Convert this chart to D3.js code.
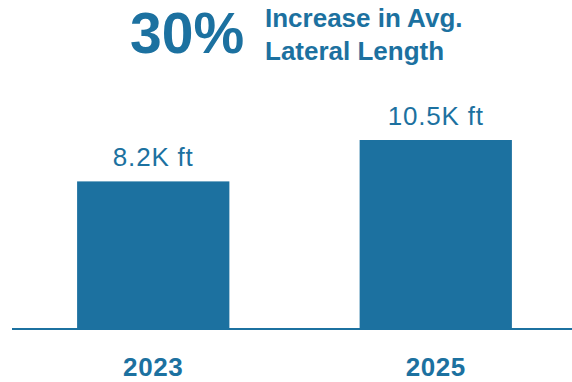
<!DOCTYPE html>
<html>
<head>
<meta charset="utf-8">
<script src="https://cdn.jsdelivr.net/npm/d3@7"></script>
<style>
  body { margin: 0; background: #fff; }
  svg { display: block; font-family: "Liberation Sans", Arial, sans-serif; }
</style>
</head>
<body>
<svg id="chart" width="572" height="382"></svg>
<script>
var years = ["2023", "2025"]
var lengths = [8.2, 10.5]
var valueLabels = ["8.2K ft", "10.5K ft"]
var headline = "30%"
var subtitle = ["Increase in Avg.", "Lateral Length"]

var blue = "#1c71a0"

var svg = d3.select("#chart"),
    margin = { top: 140, left: 12, bottom: 53, right: 0 },
    width = 572,
    height = 382;

var x = d3.scaleBand()
    .domain(years)
    .range([20.6, 568.4])
    .paddingInner(0.461)
    .paddingOuter(0.2)

var y = d3.scaleLinear()
    .domain([0, d3.max(lengths)])
    .range([height - margin.bottom, margin.top])

var data = years.map((d, i) => ({ year: d, value: lengths[i], label: valueLabels[i] }))

svg.selectAll("rect.bar")
    .data(data)
    .enter().append("rect")
    .attr("class", "bar")
    .attr("fill", blue)
    .attr("x", d => x(d.year))
    .attr("width", x.bandwidth())
    .attr("y", d => y(d.value))
    .attr("height", d => y(0) - y(d.value))

// baseline + year labels
var xAxis = svg.append("g")
    .attr("transform", `translate(0,${y(0)})`)
    .call(d3.axisBottom(x).tickSize(0).tickPadding(29))

xAxis.select(".domain").remove()
xAxis.append("line")
    .attr("x1", margin.left).attr("x2", width)
    .attr("stroke", blue).attr("stroke-width", 2)

xAxis.selectAll(".tick text")
    .attr("fill", blue)
    .attr("font-size", 26)
    .attr("font-weight", "bold")
    .attr("letter-spacing", 0.6)
    .attr("font-family", "Liberation Sans, Arial, sans-serif")

// value labels on top
svg.selectAll("text.val")
    .data(data)
    .enter().append("text")
    .attr("class", "val")
    .attr("text-anchor", "middle")
    .attr("fill", blue)
    .attr("font-size", 26)
    .attr("letter-spacing", 0.8)
    .attr("x", d => x(d.year) + x.bandwidth() / 2)
    .attr("y", d => y(d.value) - 15)
    .text(d => d.label)

// headline
svg.append("text")
    .attr("x", 130).attr("y", 53)
    .attr("fill", blue)
    .attr("font-size", 57)
    .attr("font-weight", "bold")
    .text(headline)

svg.append("text")
    .attr("fill", blue)
    .attr("font-size", 26)
    .attr("font-weight", "bold")
    .selectAll("tspan")
    .data(subtitle)
    .enter().append("tspan")
    .attr("x", 265)
    .attr("y", (d, i) => 27 + i * 33)
    .text(d => d)
</script>
</body>
</html>
